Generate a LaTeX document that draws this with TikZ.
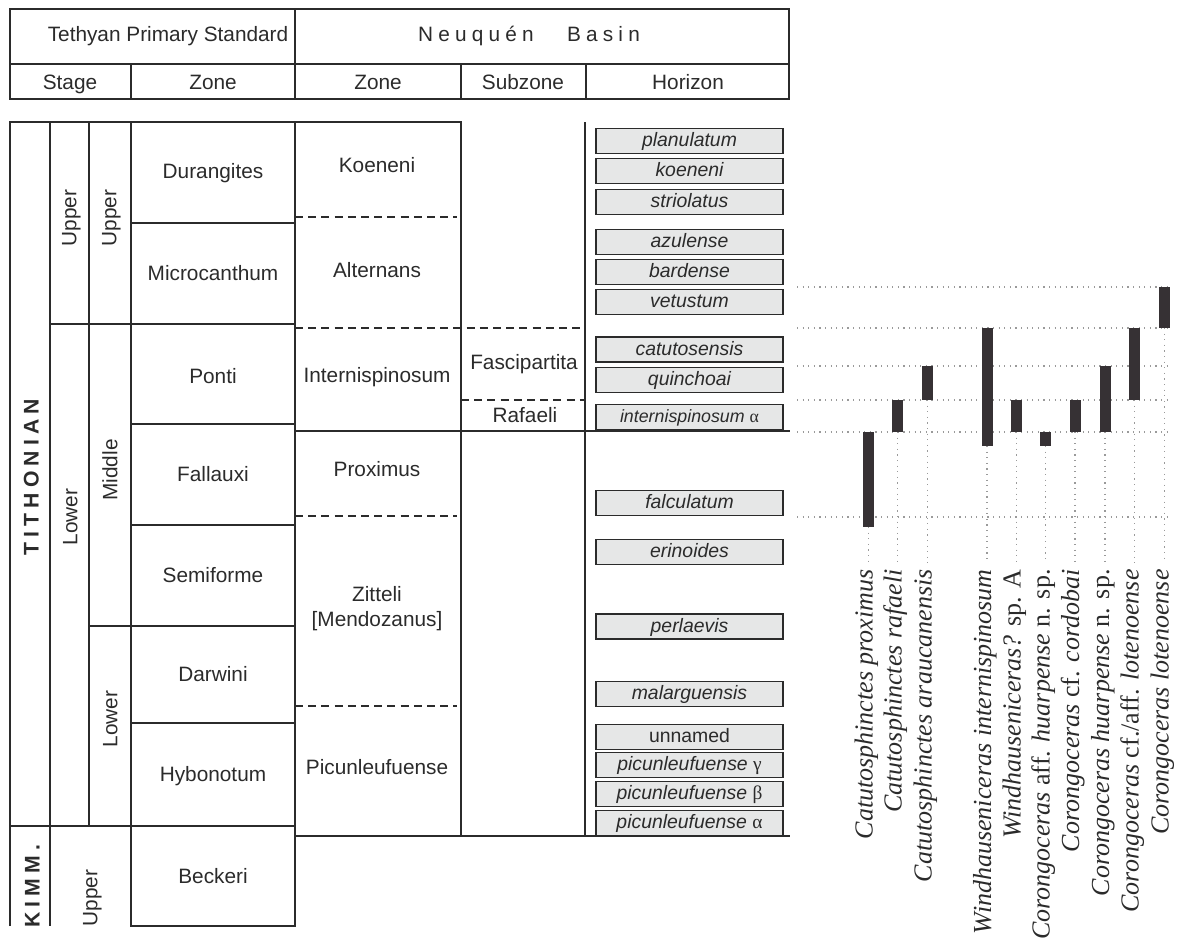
\documentclass[tikz,border=0pt]{standalone}
\usepackage{fontspec}
\setmainfont{Liberation Sans}
\newfontfamily\spfont{Liberation Serif}
\usetikzlibrary{positioning}
\definecolor{ink}{HTML}{2B2B2B}
\definecolor{boxfill}{HTML}{E6E7E7}
\definecolor{barfill}{HTML}{363134}
\definecolor{dots}{HTML}{9A9A9A}
\tikzset{
  tline/.style={draw=ink, line width=0.75pt},
  hline/.style={draw=ink, line width=1pt},
  zdash/.style={draw=ink, line width=0.75pt, dash pattern=on 4pt off 2.6pt},
  hz/.style={draw=ink, fill=boxfill, line width=0.65pt, minimum width=93.5pt, minimum height=12.6pt,
    inner sep=0pt, text height=7pt, text depth=1.5pt, text=ink, font=\fontsize{9.7}{11}\selectfont\itshape},
  lab/.style={text=ink, inner sep=0pt, text height=7.4pt, text depth=0pt, font=\fontsize{10.4}{12.5}\selectfont},
  labm/.style={text=ink, inner sep=0pt, align=center, font=\fontsize{10.4}{12.5}\selectfont},
  labr/.style={lab, rotate=90},
  stg/.style={text=ink, inner sep=0pt, rotate=90, text height=7.6pt, text depth=0pt,
    font=\fontsize{10.6}{12}\selectfont\bfseries\addfontfeature{LetterSpace=24}},
  tick/.style={draw=dots, line width=0.6pt, dash pattern=on 0.6pt off 2.2pt},
  sp/.style={text=ink, rotate=90, anchor=east, inner sep=0pt, text height=9pt, text depth=2.8pt,
    font=\spfont\fontsize{13}{15}\selectfont},
}

\begin{document}
\begin{tikzpicture}[x=0.5pt,y=-0.5pt]
  \useasboundingbox (0,0) rectangle (1177,943);
  % header
  \draw[hline] (10,9) rectangle (789,99);
  \draw[hline] (10,64) -- (789,64);
  \draw[hline] (295,9) -- (295,99);
  \draw[hline] (131,64) -- (131,99) (461,64) -- (461,99) (586,64) -- (586,99);
  \node[lab] (tps) at (168,34) {Tethyan Primary Standard};
  \node[lab, font=\fontsize{10.4}{12.5}\selectfont\addfontfeature{LetterSpace=25}] (nqb) at (529,34)
    {Neuquén\hspace{1.6em}Basin};
  \foreach \n/\x/\t in {hst/70/Stage, htz/213/Zone, hnz/378/Zone, hsz/523/Subzone, hho/688/Horizon}
    \node[lab] (\n) at (\x,82) {\t};

  % Tethyan columns
  \draw[tline] (10,926) -- (10,122) -- (295,122) -- (295,926) -- (131,926) -- (131,122);
  \draw[tline] (50,122) -- (50,926);
  \draw[tline] (89,122) -- (89,826);
  \draw[tline] (10,826) -- (295,826);
  \draw[tline] (50,324) -- (295,324);
  \draw[tline] (89,626) -- (295,626);
  \foreach \y in {223,424,525,723}
    \draw[tline] (131,\y) -- (295,\y);
  \node[stg] (tith) at (31,477) {TITHONIAN};
  \node[stg] (kimm) at (32,886) {KIMM.};
  \node[labr] (up2) at (69,218) {Upper};
  \node[labr] (up3) at (109,218) {Upper};
  \node[labr] (lo2) at (70,517) {Lower};
  \node[labr] (mi3) at (110,470) {Middle};
  \node[labr] (lo3) at (110,719) {Lower};
  \node[labr] (upk) at (90,898) {Upper};
  \foreach \n/\y/\t in {dur/171/Durangites, mic/273.5/Microcanthum, pon/376/Ponti, fal/474.5/Fallauxi,
      sem/575/Semiforme, dar/674.5/Darwini, hyb/774.5/Hybonotum, bec/876/Beckeri}
    \node[lab] (t\n) at (213,\y) {\t};

  % Neuquen zones and subzones
  \draw[tline] (295,122) -- (461,122) -- (461,836);
  \draw[tline] (585,122) -- (585,836);
  \draw[tline] (295,431) -- (790,431);
  \draw[tline] (295,836) -- (790,836);
  \foreach \y in {217,516,706}
    \draw[zdash] (295,\y) -- (457,\y);
  \draw[zdash] (295,328) -- (585,328);
  \draw[zdash] (461,400) -- (585,400);
  \foreach \n/\y/\t in {koe/165.5/Koeneni, alt/270.5/Alternans, int/375.5/Internispinosum,
      pro/469.5/Proximus, pic/767.5/Picunleufuense}
    \node[lab] (n\n) at (377,\y) {\t};
  \node[labm] (nzit) at (377,609) {Zitteli\\{[Mendozanus]}};
  \node[lab] (sfas) at (524,362.5) {Fascipartita};
  \node[lab] (sraf) at (525,415.5) {Rafaeli};

  % horizons
  \foreach \n/\y/\t in {1/141/planulatum, 2/171/koeneni, 3/202/striolatus, 4/242/azulense,
      5/272/bardense, 6/302/vetustum, 7/349.5/catutosensis, 8/380/quinchoai,
      10/503/falculatum, 11/552/erinoides, 12/626.5/perlaevis, 13/694/malarguensis,
      15/765/{picunleufuense {\upshape\spfont γ}}, 16/794/{picunleufuense {\upshape\spfont β}},
      17/823/{picunleufuense {\upshape\spfont α}}}
    \node[hz] (h\n) at (689.5,\y) {\t};
  \node[hz, font=\fontsize{8.9}{11}\selectfont\itshape] (h9) at (689.5,417)
    {internispinosum {\upshape\spfont α}};
  \node[hz, font=\fontsize{9.7}{11}\selectfont] (h14) at (689.5,737) {unnamed};

  % ranges
  \foreach \y in {287,328,366,400,432,517}
    \draw[tick] (797,\y) -- (1167,\y);
  \foreach \i/\x/\ya/\yb in {1/868.5/432/527, 2/897.5/400/432, 3/927.5/366/400, 4/987/328/446,
      5/1016.5/400/432, 6/1045.5/432/446, 7/1075/400/432, 8/1105/366/432,
      9/1134.5/328/400, 10/1164.5/287/328}
  {
    \fill[barfill] (\x-5.5,\ya) rectangle (\x+5.5,\yb);
    \coordinate (b\i) at (\x,\yb);
  }
  \foreach \i/\t in {1/{\textit{Catutosphinctes proximus}}, 2/{\textit{Catutosphinctes rafaeli}},
      3/{\textit{Catutosphinctes araucanensis}}, 4/{\textit{Windhauseniceras internispinosum}},
      5/{\textit{Windhauseniceras?} sp. A}, 6/{\textit{Corongoceras} aff. \textit{huarpense} n. sp.},
      7/{\textit{Corongoceras} cf. \textit{cordobai}}, 8/{\textit{Corongoceras huarpense} n. sp.},
      9/{\textit{Corongoceras} cf./aff. \textit{lotenoense}}, 10/{\textit{Corongoceras lotenoense}}}
  {
    \node[sp] (s\i) at ([xshift=-1pt]b\i |- 0,569) {\t};
    \draw[tick] (b\i) -- ([yshift=3pt]b\i |- s\i.east);
  }
\end{tikzpicture}
\end{document}
